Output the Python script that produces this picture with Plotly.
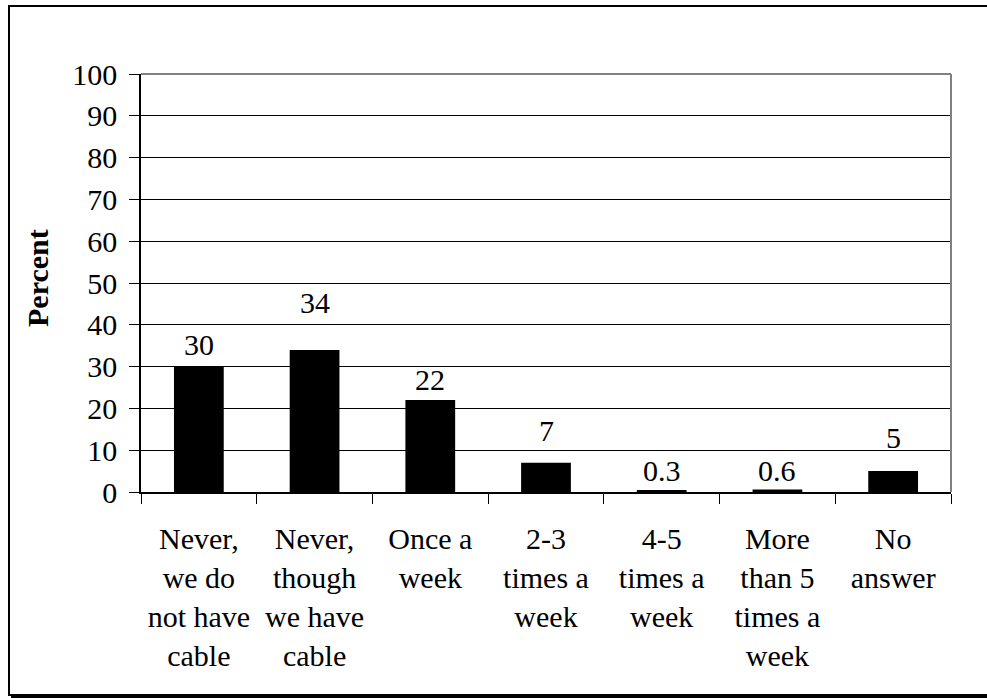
import plotly.graph_objects as go

# Survey: how often the respondent watches cable TV
categories = [
    "Never,<br>we do<br>not have<br>cable",
    "Never,<br>though<br>we have<br>cable",
    "Once a<br>week",
    "2-3<br>times a<br>week",
    "4-5<br>times a<br>week",
    "More<br>than 5<br>times a<br>week",
    "No<br>answer",
]
percent = [30, 34, 22, 7, 0.3, 0.6, 5]
y_ticks = list(range(0, 101, 10))

# pixel lift of each value label above its bar top
label_lift = [22, 47, 21, 32, 20, 19, 34]

W, H = 987, 698
ML, MR, MT, MB = 141, 36, 74, 206
PW, PH = W - ML - MR, H - MT - MB
FONT = "Times New Roman, Liberation Serif, serif"


def px_x(x):
    return (x - ML) / PW


def px_y(y):
    return (H - MB - y) / PH


fig = go.Figure(
    go.Bar(
        x=categories,
        y=percent,
        marker=dict(color="black", line=dict(width=0)),
        hoverinfo="skip",
    )
)

annotations = [
    dict(
        x=c, y=v, xref="x", yref="y", text=f"{v:g}", showarrow=False,
        yanchor="middle", yshift=lift, font=dict(family=FONT, size=30, color="black"),
    )
    for c, v, lift in zip(categories, percent, label_lift)
]
annotations.append(
    dict(
        x=px_x(37), y=px_y(278), xref="paper", yref="paper", text="<b>Percent</b>",
        textangle=-90, showarrow=False, xanchor="center", yanchor="middle",
        font=dict(family=FONT, size=30, color="black"),
    )
)

shapes = [
    # plot-area frame, grey on top and right
    dict(type="line", xref="paper", yref="paper", x0=0, x1=1, y0=1, y1=1,
         line=dict(color="#808080", width=2), layer="above"),
    dict(type="line", xref="paper", yref="paper", x0=1, x1=1, y0=0, y1=1,
         line=dict(color="#808080", width=2), layer="above"),
    # outer chart border with a drop shadow along the bottom
    dict(type="rect", xref="paper", yref="paper",
         x0=px_x(9), x1=px_x(995), y0=px_y(695), y1=px_y(6),
         line=dict(color="black", width=2)),
    dict(type="line", xref="paper", yref="paper",
         x0=px_x(11), x1=px_x(995), y0=px_y(697), y1=px_y(697),
         line=dict(color="black", width=2)),
]

fig.update_layout(
    width=W, height=H, autosize=False,
    margin=dict(l=ML, r=MR, t=MT, b=MB, pad=0),
    paper_bgcolor="white", plot_bgcolor="white",
    showlegend=False, bargap=0.57,
    font=dict(family=FONT, size=30, color="black"),
    annotations=annotations, shapes=shapes,
)
fig.update_xaxes(
    type="category", tickson="boundaries", ticks="outside", ticklen=10,
    tickcolor="black", tickwidth=1, showline=True, linecolor="black", linewidth=1.5,
    showgrid=False, tickfont=dict(family=FONT, size=30, color="black"),
    tickangle=0, automargin=False, ticklabelstandoff=19,
)
fig.update_yaxes(
    range=[0, 100], tickvals=y_ticks, ticktext=[str(t) for t in y_ticks],
    ticks="outside", ticklen=10, tickcolor="black", tickwidth=1,
    showline=True, linecolor="black", linewidth=1.5,
    showgrid=True, gridcolor="black", gridwidth=1, zeroline=False,
    tickfont=dict(family=FONT, size=30, color="black"), automargin=False,
    ticklabelstandoff=6,
)

fig.write_html("out.html")
